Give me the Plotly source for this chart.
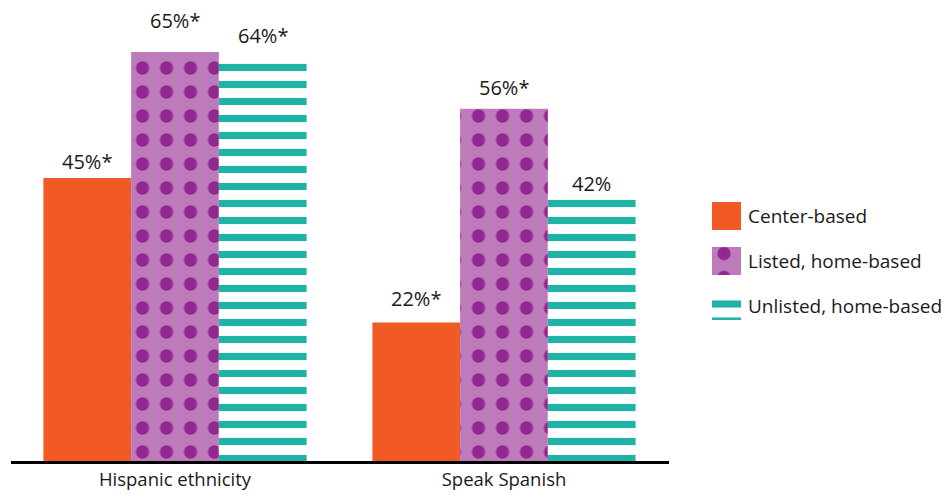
import plotly.graph_objects as go

categories = ["Hispanic ethnicity", "Speak Spanish"]
series_names = ["Center-based", "Listed, home-based", "Unlisted, home-based"]
center_based = [45, 22]
listed_home = [65, 56]
unlisted_home = [64, 42]
center_labels = ["45%*", "22%*"]
listed_labels = ["65%*", "56%*"]
unlisted_labels = ["64%*", "42%"]

ORANGE = "#F15A24"
PURPLE_BG = "#BD7BBB"
PURPLE_DOT = "#92278F"
TEAL = "#20B2A5"

W, H = 945, 498
ML, MR, MT, MB = 0, 0, 8, 37
ax_left, ax_right = 10.5, 668.5
BARGAP = 0.2

styles = [
    dict(color=ORANGE),
    dict(color=PURPLE_BG, pattern=dict(shape=".", fgcolor=PURPLE_DOT, bgcolor=PURPLE_BG,
                                       size=24, solidity=0.24, fillmode="replace")),
    dict(color=TEAL, pattern=dict(shape="-", fgcolor=TEAL, bgcolor="white",
                                  size=17, solidity=0.42, fillmode="replace")),
]
values = [center_based, listed_home, unlisted_home]
labels = [center_labels, listed_labels, unlisted_labels]
# gap (px) between each bar top and its value label
label_gap = [[1, 9], [16, 6], [7, -2]]

fig = go.Figure()
for name, vals, st in zip(series_names, values, styles):
    fig.add_trace(go.Bar(
        x=categories, y=vals, name=name,
        marker=dict(line=dict(width=0), **st),
        showlegend=False,
    ))

# value labels
cat_px = (ax_right - ax_left) / len(categories)
bar_px = cat_px * (1 - BARGAP) / len(series_names)
for i, (vals, labs, gaps) in enumerate(zip(values, labels, label_gap)):
    off = (i - (len(series_names) - 1) / 2) * bar_px
    for cat, v, lab, g in zip(categories, vals, labs, gaps):
        fig.add_annotation(x=cat, y=v, text=lab, showarrow=False,
                           xref="x", yref="y", yanchor="bottom",
                           xshift=off, yshift=g,
                           font=dict(size=20, color="#1a1a1a", family="Open Sans"))

# legend drawn as swatches on a small side axis
for name, st in zip(series_names, styles):
    fig.add_trace(go.Bar(
        y=[name], x=[1], orientation="h", xaxis="x2", yaxis="y2", width=0.62,
        marker=dict(line=dict(width=0), **st), showlegend=False, hoverinfo="skip",
    ))

plot_h = H - MT - MB
def py(px):
    return (H - MB - px) / plot_h

fig.update_layout(
    width=W, height=H,
    margin=dict(l=ML, r=MR, t=MT, b=MB),
    paper_bgcolor="white", plot_bgcolor="white",
    barmode="group", bargap=BARGAP, bargroupgap=0,
    font=dict(family="Open Sans", color="#1a1a1a"),
    xaxis=dict(domain=[ax_left / W, ax_right / W], range=[-0.5, 1.5],
               showline=True, linecolor="black", linewidth=3,
               ticks="", tickfont=dict(size=18.5), showgrid=False),
    yaxis=dict(range=[0, 72], visible=False, showgrid=False),
    xaxis2=dict(domain=[712 / W, 741 / W], range=[0, 1], visible=False,
                anchor="y2", fixedrange=True),
    yaxis2=dict(domain=[py(328.5), py(193.5)], anchor="x2", side="right",
                categoryorder="array", categoryarray=series_names,
                autorange="reversed", showline=False, showgrid=False,
                ticks="", tickfont=dict(size=19), ticklabelstandoff=6),
)

fig.write_html("out.html")
